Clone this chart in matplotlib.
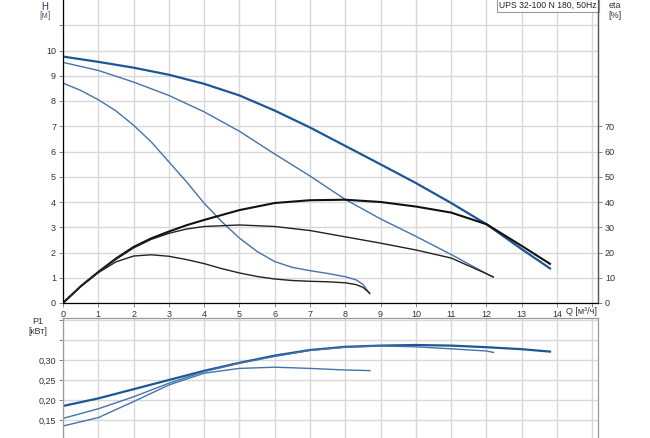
import matplotlib
matplotlib.use("Agg")
import matplotlib.pyplot as plt

plt.rcParams['font.family'] = ['Liberation Sans', 'DejaVu Sans']

# Q-H curves (m)
q_h1 = [0, 1, 2, 3, 4, 5, 6, 7, 8, 9, 10, 11, 12, 13, 13.8]
h1 = [9.76, 9.55, 9.32, 9.04, 8.68, 8.22, 7.62, 6.95, 6.22, 5.49, 4.75, 3.96, 3.12, 2.13, 1.37]
q_h2 = [0, 1, 2, 3, 4, 5, 6, 7, 8, 9, 10, 11, 12, 12.19]
h2 = [9.53, 9.21, 8.75, 8.22, 7.57, 6.8, 5.9, 5.03, 4.1, 3.33, 2.64, 1.92, 1.16, 1.03]
q_h3 = [0, 0.5, 1, 1.5, 2, 2.5, 3, 3.5, 4, 4.5, 5, 5.5, 6, 6.5, 7, 7.5, 8, 8.3, 8.5, 8.69]
h3 = [8.71, 8.42, 8.05, 7.61, 7.04, 6.38, 5.59, 4.8, 3.95, 3.22, 2.57, 2.04, 1.64, 1.41, 1.28, 1.17, 1.04, 0.92, 0.74, 0.37]

# efficiency curves (%)
q_e1 = [0, 0.5, 1, 1.5, 2, 2.5, 3, 3.5, 4, 5, 6, 7, 8, 9, 10, 11, 12, 13, 13.8]
e1 = [0, 6.6, 12.3, 17.6, 22.2, 25.6, 28.3, 30.8, 32.9, 36.8, 39.6, 40.7, 40.9, 40.0, 38.2, 35.8, 31.2, 22.6, 15.5]
q_e2 = [0, 0.5, 1, 1.5, 2, 2.5, 3, 3.5, 4, 5, 6, 7, 8, 9, 10, 11, 12, 12.19]
e2 = [0, 6.6, 12.2, 17.3, 21.8, 25.2, 27.6, 29.3, 30.3, 30.9, 30.3, 28.7, 26.2, 23.7, 21.0, 17.8, 11.6, 10.3]
q_e3 = [0, 0.5, 1, 1.5, 2, 2.5, 3, 3.5, 4, 4.5, 5, 5.5, 6, 6.5, 7, 7.5, 8, 8.3, 8.5, 8.69]
e3 = [0, 6.5, 12, 16.3, 18.6, 19.1, 18.5, 17.2, 15.6, 13.6, 11.9, 10.5, 9.5, 8.9, 8.6, 8.4, 8.0, 7.3, 6.2, 3.9]

# power P1 (kW)
q_p1 = [0, 1, 2, 3, 4, 5, 6, 7, 8, 9, 10, 11, 12, 13, 13.8]
p1 = [0.185, 0.204, 0.227, 0.25, 0.273, 0.293, 0.311, 0.325, 0.333, 0.336, 0.3375, 0.336, 0.332, 0.327, 0.321]
q_p2 = [0, 1, 2, 3, 4, 5, 6, 7, 8, 9, 10, 11, 12, 12.2]
p2 = [0.154, 0.178, 0.208, 0.242, 0.271, 0.292, 0.309, 0.324, 0.332, 0.335, 0.333, 0.328, 0.3225, 0.319]
q_p3 = [0, 1, 2, 3, 4, 5, 6, 7, 8, 8.7]
p3 = [0.135, 0.156, 0.196, 0.2375, 0.267, 0.279, 0.282, 0.279, 0.275, 0.2735]

x_ticks = list(range(0, 16))
h_ticks = list(range(0, 12))
eta_ticks = [0, 10, 20, 30, 40, 50, 60, 70]
p_ticks = [0.05, 0.10, 0.15, 0.20, 0.25, 0.30, 0.35, 0.40]

BLUE_DARK = '#1d5696'
BLUE = '#4473ab'
GRID = '#d8d8d8'
TXT = '#333333'
FS = 6.5

fig = plt.figure(figsize=(6.5, 4.38), dpi=100)
W, H = 650.0, 438.0

ax = fig.add_axes([63 / W, 135 / H, 535 / W, 303 / H])
ax.set_xlim(0, 15.16)
ax.set_ylim(0, 12)
ax.set_xticks(x_ticks)
ax.set_xticklabels([str(t) if t <= 14 else '' for t in x_ticks])
ax.set_yticks(h_ticks)
ax.set_yticklabels([str(t) if t <= 10 else '' for t in h_ticks])
ax.grid(True, color=GRID, lw=1.0)
ax.set_axisbelow(True)
ax.spines['top'].set_visible(False)
for s in ['left', 'bottom', 'right']:
    ax.spines[s].set_color('#777777')
    ax.spines[s].set_linewidth(0.9)
ax.tick_params(length=3, width=0.7, color='#888888', labelsize=FS, labelcolor=TXT, pad=2)

ax.plot(q_h1, h1, color=BLUE_DARK, lw=1.6, zorder=4)
ax.plot(q_h2, h2, color=BLUE, lw=1.0, zorder=4)
ax.plot(q_h3, h3, color=BLUE, lw=1.0, zorder=4)

ax2 = ax.twinx()
ax2.set_ylim(0, 120)
ax2.set_yticks(eta_ticks)
ax2.spines['top'].set_visible(False)
ax2.spines['right'].set_color('#555555')
ax2.spines['right'].set_linewidth(0.9)
ax2.tick_params(length=3, width=0.7, color='#888888', labelsize=FS, labelcolor=TXT, pad=2)
ax2.plot(q_e1, e1, color='#111111', lw=1.5)
ax2.plot(q_e2, e2, color='#222222', lw=1.0)
ax2.plot(q_e3, e3, color='#222222', lw=1.0)

ax.text(0.997, 0.997, 'UPS 32-100 N 180, 50Hz', transform=ax.transAxes, ha='right', va='top',
        fontsize=6.2, color='#222222', zorder=10,
        bbox=dict(facecolor='white', edgecolor='#999999', boxstyle='square,pad=0.25', lw=0.8))

fig.text(45 / W, 1 - 7 / H, 'H', ha='center', va='center', fontsize=FS + 0.5, color='#3a2a5a')
fig.text(45 / W, 1 - 16 / H, '[м]', ha='center', va='center', fontsize=FS, color='#666666')
fig.text(615 / W, 1 - 6 / H, 'eta', ha='center', va='center', fontsize=FS, color=TXT)
fig.text(615 / W, 1 - 16 / H, '[%]', ha='center', va='center', fontsize=FS, color=TXT)
fig.text(581 / W, 1 - 311 / H, 'Q [м³/ч]', ha='center', va='center', fontsize=FS, color=TXT)
fig.text(38 / W, 1 - 322 / H, 'P1', ha='center', va='center', fontsize=FS, color=TXT)
fig.text(38 / W, 1 - 332 / H, '[кВт]', ha='center', va='center', fontsize=FS, color=TXT)

axp = fig.add_axes([63 / W, -22 / H, 535 / W, 142 / H])
axp.set_xlim(0, 15.16)
axp.set_ylim(0.05, 0.405)
axp.set_xticks(x_ticks)
axp.set_xticklabels([])
axp.set_yticks(p_ticks)
# 0,10 sits on the cropped bottom edge, so only 0,15 .. 0,30 are labelled
axp.set_yticklabels([('%.2f' % t).replace('.', ',') if 0.12 < t <= 0.30 else '' for t in p_ticks])
axp.grid(True, color=GRID, lw=1.0)
axp.set_axisbelow(True)
for s in axp.spines.values():
    s.set_color('#999999')
    s.set_linewidth(0.9)
axp.tick_params(length=3, width=0.7, color='#888888', labelsize=FS, labelcolor=TXT, pad=2)
axp.tick_params(axis='x', length=0)

axp.plot(q_p1, p1, color=BLUE_DARK, lw=1.6)
axp.plot(q_p2, p2, color=BLUE, lw=1.0)
axp.plot(q_p3, p3, color=BLUE, lw=1.0)

fig.savefig('out.png', dpi=100)
